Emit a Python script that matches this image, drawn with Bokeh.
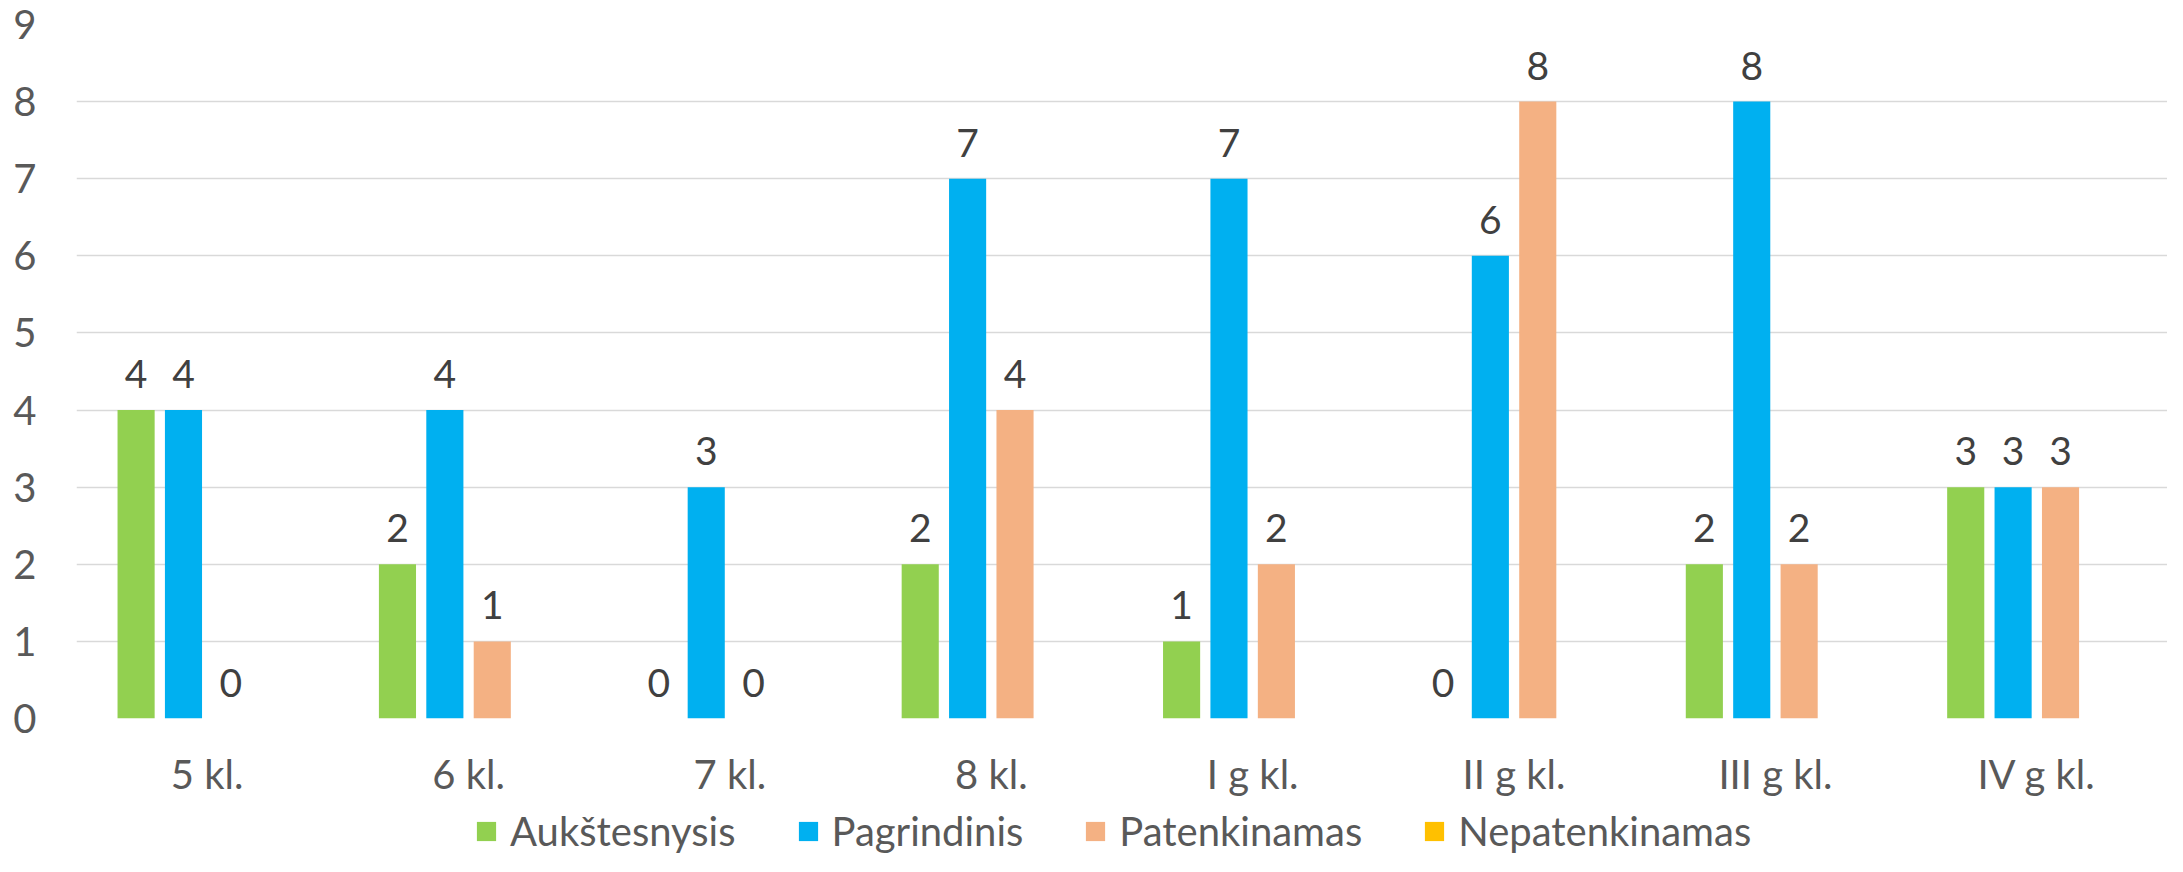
from bokeh.plotting import figure
from bokeh.layouts import column
from bokeh.models import ColumnDataSource, FactorRange, Range1d, LabelSet, Legend, LegendItem, FixedTicker
from bokeh.transform import dodge
from bokeh.core.properties import value
from bokeh.embed import file_html
from bokeh.resources import INLINE

categories = ["5 kl.", "6 kl.", "7 kl.", "8 kl.", "I g kl.", "II g kl.", "III g kl.", "IV g kl."]
aukstesnysis = [4, 2, 0, 2, 1, 0, 2, 3]
pagrindinis = [4, 4, 3, 7, 7, 6, 8, 3]
patenkinamas = [0, 1, 0, 4, 2, 8, 2, 3]
nepatenkinamas = [None, None, None, None, None, None, None, None]

series_names = ["Aukštesnysis", "Pagrindinis", "Patenkinamas", "Nepatenkinamas"]
series_keys = ["auk", "pag", "pat", "nep"]
colors = ["#92D050", "#00B0F0", "#F4B183", "#FFC000"]
offsets = [-0.272, -0.0907, 0.0907, 0.272]
bar_width = 0.142

FONT = "Lato"
W = 2167
H_MAIN = 800
H_LEG = 56

src = ColumnDataSource(dict(cat=categories, auk=aukstesnysis, pag=pagrindinis,
                            pat=patenkinamas, nep=nepatenkinamas,
                            auk_t=[str(v) for v in aukstesnysis],
                            pag_t=[str(v) for v in pagrindinis],
                            pat_t=[str(v) for v in patenkinamas]))

p = figure(width=W, height=H_MAIN, x_range=FactorRange(*categories), y_range=Range1d(0, 9),
           output_backend="svg", toolbar_location=None,
           min_border_left=76, min_border_right=0, min_border_top=24, min_border_bottom=82)
p.outline_line_color = None

for key, col, off in zip(series_keys, colors, offsets):
    p.vbar(x=dodge("cat", off, range=p.x_range), top=key, width=bar_width, bottom=0,
           source=src, fill_color=col, line_color=None)

for key, off in zip(series_keys[:3], offsets[:3]):
    lbl = LabelSet(x=dodge("cat", off, range=p.x_range), y=key, text=key + "_t", source=src,
                   text_align="center", text_baseline="alphabetic", y_offset=22,
                   text_font=value(FONT), text_font_size="39px", text_color="#404040")
    p.add_layout(lbl)

# axes
p.yaxis.ticker = FixedTicker(ticks=list(range(0, 10)))
for ax in (p.xaxis, p.yaxis):
    ax.axis_line_color = None
    ax.major_tick_line_color = None
    ax.minor_tick_line_color = None
    ax.major_tick_out = 0
    ax.major_tick_in = 0
    ax.major_label_text_font = FONT
    ax.major_label_text_font_size = "40px"
    ax.major_label_text_color = "#595959"
p.yaxis.major_label_standoff = 40
p.xaxis.major_label_standoff = 31

p.xgrid.grid_line_color = None
p.ygrid.grid_line_color = "#D9D9D9"
p.ygrid.grid_line_width = 1.5

# legend strip below the chart
pl = figure(width=W, height=H_LEG, x_range=FactorRange(*categories), y_range=Range1d(100, 101),
            output_backend="svg", toolbar_location=None,
            x_axis_location=None, y_axis_location=None,
            min_border_left=76, min_border_right=0, min_border_top=0, min_border_bottom=0)
pl.outline_line_color = None
pl.xgrid.grid_line_color = None
pl.ygrid.grid_line_color = None
leg_renderers = []
for key, col, off in zip(series_keys, colors, offsets):
    r = pl.vbar(x=dodge("cat", off, range=pl.x_range), top=key, width=bar_width, bottom=0,
                source=src, fill_color=col, line_color=None)
    leg_renderers.append(r)

legend = Legend(items=[LegendItem(label=n, renderers=[r]) for n, r in zip(series_names, leg_renderers)],
                orientation="horizontal", location=(398, 1),
                glyph_width=24, glyph_height=24, label_standoff=12, spacing=60,
                padding=0, margin=0, border_line_color=None, background_fill_alpha=0,
                label_text_font=FONT, label_text_font_size="40px", label_text_color="#595959")
pl.add_layout(legend, "center")

open("out.html", "w").write(file_html(column(p, pl, spacing=0), INLINE))
